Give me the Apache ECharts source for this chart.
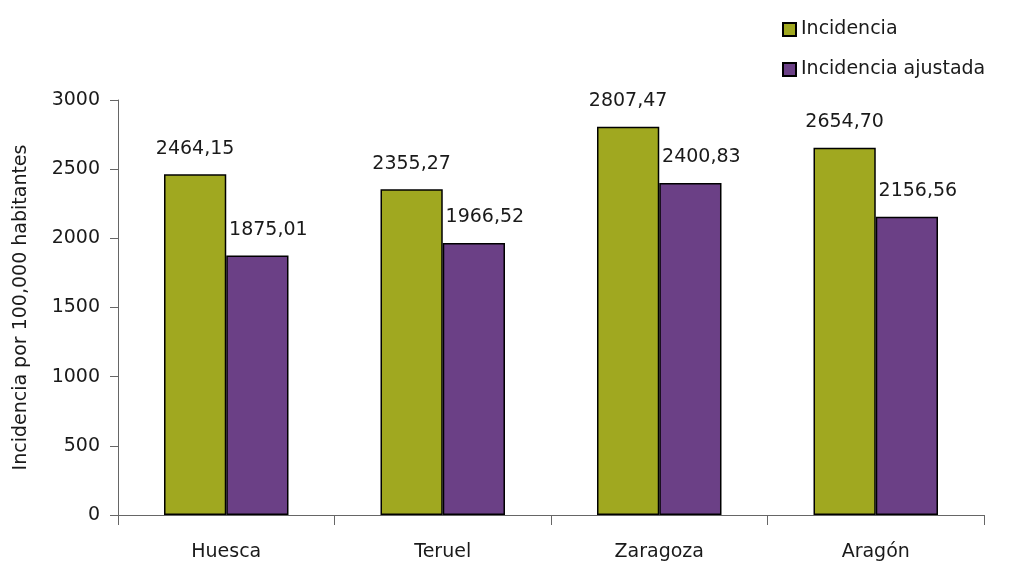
<!DOCTYPE html>
<html><head><meta charset="utf-8">
<script src="https://cdn.jsdelivr.net/npm/echarts@6/dist/echarts.min.js"></script>
<style>html,body{margin:0;padding:0;background:#fff}#c{width:1031px;height:562px}</style>
</head><body><div id="c"></div>
<script>
const categories = ['Huesca', 'Teruel', 'Zaragoza', 'Aragón'];
const incidencia = [2464.15, 2355.27, 2807.47, 2654.70];
const incidenciaAjustada = [1875.01, 1966.52, 2400.83, 2156.56];
const seriesNames = ['Incidencia', 'Incidencia ajustada'];
const yAxisName = 'Incidencia por 100,000 habitantes';

const FONT = '"DejaVu Sans", sans-serif';
const fmt = p => p.value.toFixed(2).replace('.', ',');
const chart = echarts.init(document.getElementById('c'));
chart.setOption({
  animation: false,
  textStyle: { fontFamily: FONT },
  legend: {
    orient: 'vertical', left: 777, top: 15, itemWidth: 13, itemHeight: 13, itemGap: 21,
    icon: 'rect',
    textStyle: { fontSize: 19, color: '#1a1a1a', fontFamily: FONT },
    data: seriesNames
  },
  grid: { left: 118, right: 47, top: 100, bottom: 46 },
  xAxis: {
    type: 'category', data: categories,
    axisLine: { lineStyle: { color: '#666' } },
    axisTick: { show: true, length: 10, lineStyle: { color: '#666' } },
    axisLabel: { color: '#1a1a1a', fontSize: 19, margin: 28, fontFamily: FONT }
  },
  yAxis: {
    type: 'value', min: 0, max: 3000, interval: 500,
    name: yAxisName, nameLocation: 'middle', nameGap: 87, nameRotate: 90,
    nameTextStyle: { fontSize: 19, color: '#1a1a1a', fontFamily: FONT },
    axisLine: { show: true, lineStyle: { color: '#666' } },
    axisTick: { show: true, length: 8, lineStyle: { color: '#666' } },
    splitLine: { show: false },
    axisLabel: { color: '#1a1a1a', fontSize: 19, margin: 18, fontFamily: FONT, formatter: v => String(v) }
  },
  series: [
    { name: seriesNames[0], type: 'bar', data: incidencia, barGap: '0%', barCategoryGap: '42.5%',
      itemStyle: { color: '#A0A820', borderColor: '#000', borderWidth: 1.5 },
      label: { show: true, position: 'top', distance: 16, formatter: fmt, fontSize: 19, color: '#1a1a1a', fontFamily: FONT } },
    { name: seriesNames[1], type: 'bar', data: incidenciaAjustada,
      itemStyle: { color: '#6B4086', borderColor: '#000', borderWidth: 1.5 },
      label: { show: true, position: 'top', distance: 16, offset: [11, 0], formatter: fmt, fontSize: 19, color: '#1a1a1a', fontFamily: FONT } }
  ]
});
</script></body></html>
